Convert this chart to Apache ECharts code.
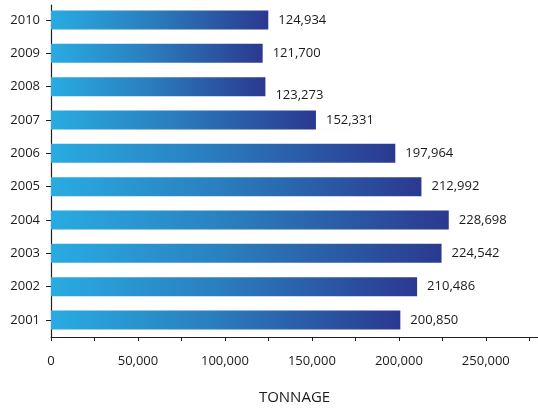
<!DOCTYPE html>
<html>
<head>
<meta charset="utf-8">
<script src="https://cdn.jsdelivr.net/npm/echarts@6/dist/echarts.min.js"></script>
<style>
html,body{margin:0;padding:0;background:#fff;}
#chart{width:538px;height:410px;}
</style>
</head>
<body>
<div id="chart"></div>
<script>
// Data (bottom to top)
var years = ['2001','2002','2003','2004','2005','2006','2007','2008','2009','2010'];
var tonnage = [200850, 210486, 224542, 228698, 212992, 197964, 152331, 123273, 121700, 124934];
var xAxisTicks = [0, 50000, 100000, 150000, 200000, 250000];
var axisTitle = 'TONNAGE';

var FONT = '"Open Sans", "Noto Sans", sans-serif';
var TXT = '#1c1a1b';
var xMax = 280000;

var chart = echarts.init(document.getElementById('chart'), null, {renderer: 'canvas'});

var barData = tonnage.map(function (v, i) {
  var item = {value: v};
  if (years[i] === '2008') item.label = {offset: [0, 9]};
  return item;
});

var option = {
  animation: false,
  backgroundColor: '#ffffff',
  grid: [
    {left: 51, right: 0, top: 3.33, height: 333.34, containLabel: false},
    {left: 51, right: 0, top: 5, bottom: 61, containLabel: false}
  ],
  xAxis: [
    {
      gridIndex: 0, type: 'value', min: 0, max: xMax, show: false
    },
    {
      gridIndex: 1, type: 'value', min: 0, max: xMax, interval: 25000,
      name: axisTitle, nameLocation: 'middle', nameGap: 53,
      nameTextStyle: {fontFamily: FONT, fontSize: 15, color: TXT},
      axisLine: {show: true, lineStyle: {color: '#231F20', width: 1.2}},
      axisTick: {show: true, length: 4, lineStyle: {color: '#231F20', width: 1}},
      splitLine: {show: false},
      axisLabel: {
        margin: 18, fontFamily: FONT, fontSize: 13, color: TXT,
        showMaxLabel: false,
        formatter: function (v) {
          if (xAxisTicks.indexOf(v) < 0) return '';
          return v.toLocaleString('en-US');
        }
      }
    }
  ],
  yAxis: [
    {
      gridIndex: 0, type: 'category', data: years,
      axisLine: {show: false},
      axisTick: {show: true, length: 5, alignWithLabel: true, lineStyle: {color: '#231F20', width: 1}},
      axisLabel: {margin: 11, fontFamily: FONT, fontSize: 13, color: TXT}
    },
    {
      gridIndex: 1, type: 'value', min: 0, max: 1,
      axisLine: {show: true, lineStyle: {color: '#231F20', width: 1.2}},
      axisTick: {show: false}, axisLabel: {show: false}, splitLine: {show: false}
    }
  ],
  series: [
    {
      type: 'bar', xAxisIndex: 0, yAxisIndex: 0,
      data: barData,
      barWidth: 19,
      itemStyle: {
        color: new echarts.graphic.LinearGradient(0, 0, 1, 0, [
          {offset: 0, color: '#29ABE2'},
          {offset: 0.45, color: '#2A7FBF'},
          {offset: 1, color: '#2B3990'}
        ])
      },
      label: {
        show: true, position: 'right', distance: 10,
        fontFamily: FONT, fontSize: 13, color: TXT,
        formatter: function (p) { return p.value.toLocaleString('en-US'); }
      }
    }
  ]
};
chart.setOption(option);
</script>
</body>
</html>
